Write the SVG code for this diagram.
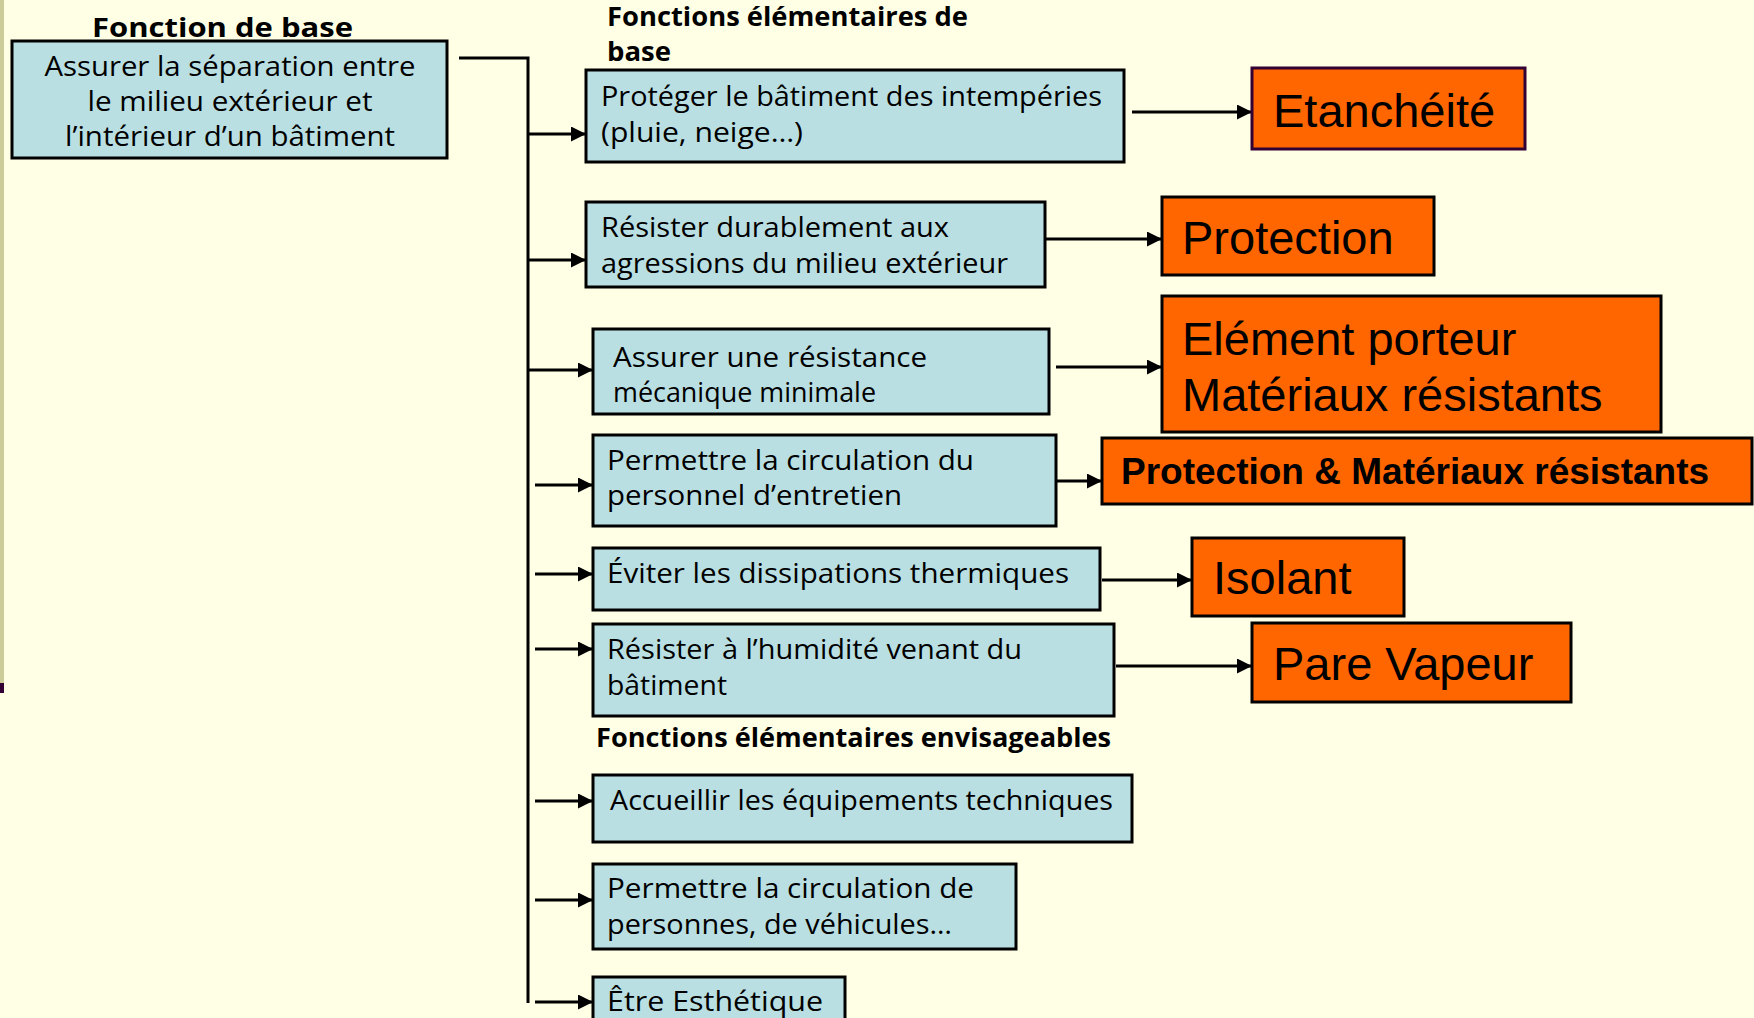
<svg xmlns="http://www.w3.org/2000/svg" width="1754" height="1018" viewBox="0 0 1754 1018">
<defs>
<marker id="ah" markerUnits="userSpaceOnUse" markerWidth="15" markerHeight="15" refX="15" refY="7.5" orient="auto"><path d="M0,0 L15,7.5 L0,15 z" fill="#000"/></marker>
<style>
.bg{fill:#FFFFE5}
.blue{fill:#B9DFE3;stroke:#000;stroke-width:3}
.or{fill:#FF6600;stroke:#000;stroke-width:3}
.t{font-family:"Open Sans","Noto Sans",sans-serif;font-size:28px;fill:#000}
.h{font-family:"Open Sans","Noto Sans",sans-serif;font-size:27px;font-weight:bold;fill:#000}
.o{font-family:"Liberation Sans",Arial,sans-serif;font-size:47px;fill:#000}
.ob{font-family:"Liberation Sans",Arial,sans-serif;font-size:37px;font-weight:bold;fill:#000}
.c{fill:none;stroke:#000;stroke-width:3}
.a{fill:none;stroke:#000;stroke-width:3;marker-end:url(#ah)}
</style>
</defs>
<rect class="bg" x="0" y="0" width="1754" height="1018"/>
<rect x="0" y="0" width="4" height="683" fill="#CCCC99"/>
<rect x="0" y="683" width="4" height="10" fill="#330033"/>

<text class="h" x="92" y="37" textLength="261" lengthAdjust="spacingAndGlyphs">Fonction de base</text>
<text class="h" x="607" y="26" textLength="361" lengthAdjust="spacingAndGlyphs">Fonctions élémentaires de</text>
<text class="h" x="607" y="61" textLength="64" lengthAdjust="spacingAndGlyphs">base</text>
<text class="h" x="596" y="747" textLength="515" lengthAdjust="spacingAndGlyphs">Fonctions élémentaires envisageables</text>

<g id="connectors">
<polyline class="c" points="459,58 528,58 528,1003"/>
<line class="a" x1="528" y1="134" x2="586" y2="134"/>
<line class="a" x1="528" y1="260" x2="586" y2="260"/>
<line class="a" x1="528" y1="370" x2="593" y2="370"/>
<line class="a" x1="535" y1="485" x2="593" y2="485"/>
<line class="a" x1="535" y1="574" x2="593" y2="574"/>
<line class="a" x1="535" y1="649" x2="593" y2="649"/>
<line class="a" x1="535" y1="801" x2="593" y2="801"/>
<line class="a" x1="535" y1="900" x2="593" y2="900"/>
<line class="a" x1="535" y1="1002" x2="593" y2="1002"/>
<line class="a" x1="1132" y1="112" x2="1252" y2="112"/>
<line class="a" x1="1043" y1="239" x2="1162" y2="239"/>
<line class="a" x1="1056" y1="367" x2="1162" y2="367"/>
<line class="a" x1="1056" y1="481" x2="1102" y2="481"/>
<line class="a" x1="1102" y1="580" x2="1192" y2="580"/>
<line class="a" x1="1116" y1="666" x2="1252" y2="666"/>
</g>

<g id="main">
<rect class="blue" x="12" y="41" width="435" height="117"/>
<text class="t" x="230" y="76" text-anchor="middle" textLength="371" lengthAdjust="spacingAndGlyphs">Assurer la séparation entre</text>
<text class="t" x="230" y="111" text-anchor="middle" textLength="285" lengthAdjust="spacingAndGlyphs">le milieu extérieur et</text>
<text class="t" x="230" y="146" text-anchor="middle" textLength="330" lengthAdjust="spacingAndGlyphs">l’intérieur d’un bâtiment</text>
</g>

<g id="f1">
<rect class="blue" x="586" y="70" width="538" height="92"/>
<text class="t" x="601" y="106" textLength="501" lengthAdjust="spacingAndGlyphs">Protéger le bâtiment des intempéries</text>
<text class="t" x="601" y="142" textLength="202" lengthAdjust="spacingAndGlyphs">(pluie, neige…)</text>
</g>
<g id="f2">
<rect class="blue" x="586" y="202" width="459" height="85"/>
<text class="t" x="601" y="237" textLength="348" lengthAdjust="spacingAndGlyphs">Résister durablement aux</text>
<text class="t" x="601" y="273" textLength="407" lengthAdjust="spacingAndGlyphs">agressions du milieu extérieur</text>
</g>
<g id="f3">
<rect class="blue" x="593" y="329" width="456" height="85"/>
<text class="t" x="613" y="367" textLength="314" lengthAdjust="spacingAndGlyphs">Assurer une résistance</text>
<text class="t" x="613" y="402" textLength="263" lengthAdjust="spacingAndGlyphs">mécanique minimale</text>
</g>
<g id="f4">
<rect class="blue" x="593" y="435" width="463" height="91"/>
<text class="t" x="607" y="470" textLength="367" lengthAdjust="spacingAndGlyphs">Permettre la circulation du</text>
<text class="t" x="607" y="505" textLength="295" lengthAdjust="spacingAndGlyphs">personnel d’entretien</text>
</g>
<g id="f5">
<rect class="blue" x="593" y="548" width="507" height="62"/>
<text class="t" x="607" y="583" textLength="462" lengthAdjust="spacingAndGlyphs">Éviter les dissipations thermiques</text>
</g>
<g id="f6">
<rect class="blue" x="593" y="624" width="521" height="92"/>
<text class="t" x="607" y="659" textLength="415" lengthAdjust="spacingAndGlyphs">Résister à l’humidité venant du</text>
<text class="t" x="607" y="695" textLength="120" lengthAdjust="spacingAndGlyphs">bâtiment</text>
</g>
<g id="f7">
<rect class="blue" x="593" y="775" width="539" height="67"/>
<text class="t" x="610" y="810" textLength="503" lengthAdjust="spacingAndGlyphs">Accueillir les équipements techniques</text>
</g>
<g id="f8">
<rect class="blue" x="593" y="864" width="423" height="85"/>
<text class="t" x="607" y="898" textLength="367" lengthAdjust="spacingAndGlyphs">Permettre la circulation de</text>
<text class="t" x="607" y="934" textLength="345" lengthAdjust="spacingAndGlyphs">personnes, de véhicules…</text>
</g>
<g id="f9">
<rect class="blue" x="593" y="977" width="252" height="60"/>
<text class="t" x="607" y="1011" textLength="216" lengthAdjust="spacingAndGlyphs">Être Esthétique</text>
</g>

<g id="r1">
<rect class="or" x="1252" y="68" width="273" height="81" style="stroke:#330033"/>
<text class="o" x="1273" y="127">Etanchéité</text>
</g>
<g id="r2">
<rect class="or" x="1162" y="197" width="272" height="78"/>
<text class="o" x="1182" y="254">Protection</text>
</g>
<g id="r3">
<rect class="or" x="1162" y="296" width="499" height="136"/>
<text class="o" x="1182" y="355">Elément porteur</text>
<text class="o" x="1182" y="411">Matériaux résistants</text>
</g>
<g id="r4">
<rect class="or" x="1102" y="438" width="650" height="66"/>
<text class="ob" x="1121" y="484">Protection &amp; Matériaux résistants</text>
</g>
<g id="r5">
<rect class="or" x="1192" y="538" width="212" height="78"/>
<text class="o" x="1213" y="594">Isolant</text>
</g>
<g id="r6">
<rect class="or" x="1252" y="623" width="319" height="79"/>
<text class="o" x="1273" y="680">Pare Vapeur</text>
</g>
</svg>
